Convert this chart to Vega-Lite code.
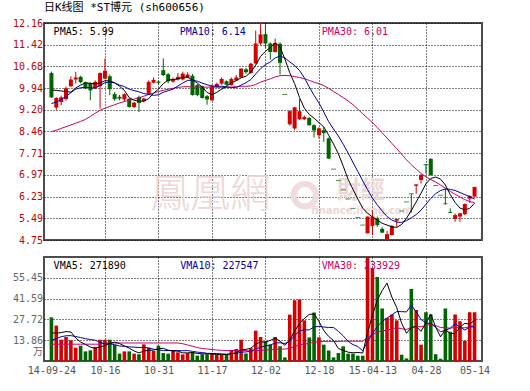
{
"$schema":"https://vega.github.io/schema/vega-lite/v6.json",
"padding":{"left":0,"top":1,"right":5,"bottom":0},
"background":"white",
"config":{
"view":{"stroke":"#4d4d4d","strokeWidth":2},
"axis":{"labelFont":"DejaVu Sans Mono, Noto Sans CJK SC","labelFontSize":10,"ticks":false,"domain":false,"title":null,"gridColor":"#000000","gridDash":[1,2],"gridWidth":1,"labelOverlap":false,"tickCount":40},
"font":"DejaVu Sans Mono, Noto Sans CJK SC"
},
"datasets":{"k":[
{"i":0,"o":10.45,"h":10.5,"l":9.6,"c":9.62,"v":29.1,"m5":9.87,"m10":9.41,"m30":8.45,"v5":18.7,"v10":13.8,"v30":11.2},
{"i":1,"o":9.27,"h":9.62,"l":9.18,"c":9.6,"v":23.6,"m5":9.86,"m10":9.46,"m30":8.5,"v5":18.6,"v10":15.0,"v30":11.2},
{"i":2,"o":9.46,"h":9.68,"l":9.35,"c":9.62,"v":14.2,"m5":9.84,"m10":9.55,"m30":8.56,"v5":18.9,"v10":16.2,"v30":11.2},
{"i":3,"o":9.56,"h":9.99,"l":9.51,"c":9.93,"v":16.0,"m5":9.82,"m10":9.65,"m30":8.62,"v5":19.6,"v10":16.8,"v30":11.2},
{"i":4,"o":10.0,"h":10.34,"l":9.98,"c":10.23,"v":13.8,"m5":9.8,"m10":9.78,"m30":8.68,"v5":19.34,"v10":16.9,"v30":11.2},
{"i":5,"o":10.23,"h":10.49,"l":10.09,"c":10.3,"v":8.9,"m5":9.94,"m10":9.9,"m30":8.74,"v5":15.3,"v10":16.3,"v30":11.2},
{"i":6,"o":10.32,"h":10.36,"l":10.1,"c":10.14,"v":10.2,"m5":10.04,"m10":9.95,"m30":8.8,"v5":12.62,"v10":15.6,"v30":11.2},
{"i":7,"o":10.14,"h":10.16,"l":9.9,"c":9.97,"v":6.4,"m5":10.11,"m10":9.96,"m30":8.87,"v5":11.06,"v10":14.9,"v30":11.2},
{"i":8,"o":10.11,"h":10.14,"l":9.52,"c":9.86,"v":7.1,"m5":10.1,"m10":9.95,"m30":8.97,"v5":9.28,"v10":14.3,"v30":11.2},
{"i":9,"o":9.93,"h":10.2,"l":9.9,"c":10.15,"v":9.4,"m5":10.08,"m10":9.94,"m30":9.08,"v5":8.4,"v10":13.87,"v30":11.2},
{"i":10,"o":10.0,"h":10.47,"l":9.24,"c":10.45,"v":14.2,"m5":10.11,"m10":10.03,"m30":9.18,"v5":9.46,"v10":12.38,"v30":11.2},
{"i":11,"o":10.26,"h":10.95,"l":10.24,"c":10.53,"v":14.2,"m5":10.19,"m10":10.12,"m30":9.25,"v5":10.26,"v10":11.44,"v30":12.0},
{"i":12,"o":10.34,"h":10.4,"l":9.7,"c":9.9,"v":14.2,"m5":10.18,"m10":10.15,"m30":9.31,"v5":11.82,"v10":11.44,"v30":12.0},
{"i":13,"o":9.73,"h":9.8,"l":9.5,"c":9.56,"v":10.7,"m5":10.12,"m10":10.11,"m30":9.37,"v5":12.54,"v10":10.91,"v30":12.0},
{"i":14,"o":9.64,"h":9.7,"l":9.52,"c":9.58,"v":4.9,"m5":10.0,"m10":10.04,"m30":9.43,"v5":11.64,"v10":10.02,"v30":12.0},
{"i":15,"o":9.55,"h":9.76,"l":9.47,"c":9.73,"v":6.4,"m5":9.86,"m10":9.99,"m30":9.48,"v5":10.08,"v10":9.77,"v30":12.0},
{"i":16,"o":9.57,"h":9.6,"l":9.27,"c":9.29,"v":6.4,"m5":9.61,"m10":9.9,"m30":9.52,"v5":8.52,"v10":9.39,"v30":12.0},
{"i":17,"o":9.29,"h":9.46,"l":9.25,"c":9.44,"v":4.9,"m5":9.52,"m10":9.85,"m30":9.56,"v5":6.66,"v10":9.24,"v30":12.0},
{"i":18,"o":9.63,"h":9.68,"l":9.12,"c":9.43,"v":4.5,"m5":9.49,"m10":9.81,"m30":9.61,"v5":5.42,"v10":8.98,"v30":12.0},
{"i":19,"o":9.49,"h":9.6,"l":9.45,"c":9.58,"v":11.1,"m5":9.49,"m10":9.75,"m30":9.66,"v5":6.66,"v10":9.15,"v30":12.0},
{"i":20,"o":9.74,"h":10.2,"l":9.7,"c":10.15,"v":8.9,"m5":9.58,"m10":9.72,"m30":9.72,"v5":7.16,"v10":8.62,"v30":12.0},
{"i":21,"o":10.12,"h":10.3,"l":10.1,"c":10.22,"v":6.7,"m5":9.76,"m10":9.69,"m30":9.77,"v5":7.22,"v10":7.87,"v30":12.0},
{"i":22,"o":10.16,"h":10.2,"l":10.05,"c":10.12,"v":10.2,"m5":9.9,"m10":9.71,"m30":9.82,"v5":8.28,"v10":7.47,"v30":12.0},
{"i":23,"o":10.55,"h":10.95,"l":10.35,"c":10.38,"v":5.3,"m5":10.09,"m10":9.79,"m30":9.86,"v5":8.44,"v10":6.93,"v30":12.0},
{"i":24,"o":10.41,"h":10.45,"l":10.1,"c":10.17,"v":4.9,"m5":10.21,"m10":9.85,"m30":9.9,"v5":7.2,"v10":6.93,"v30":12.0},
{"i":25,"o":10.16,"h":10.3,"l":10.12,"c":10.25,"v":6.7,"m5":10.23,"m10":9.9,"m30":9.93,"v5":6.76,"v10":6.96,"v30":12.0},
{"i":26,"o":10.23,"h":10.45,"l":10.2,"c":10.32,"v":5.8,"m5":10.25,"m10":10.01,"m30":9.96,"v5":6.58,"v10":6.9,"v30":12.0},
{"i":27,"o":10.23,"h":10.5,"l":10.2,"c":10.43,"v":4.4,"m5":10.31,"m10":10.11,"m30":9.98,"v5":5.42,"v10":6.85,"v30":11.5},
{"i":28,"o":10.3,"h":10.48,"l":10.28,"c":10.4,"v":5.3,"m5":10.31,"m10":10.2,"m30":9.99,"v5":5.42,"v10":6.93,"v30":10.7},
{"i":29,"o":10.36,"h":10.42,"l":9.68,"c":9.7,"v":6.0,"m5":10.22,"m10":10.21,"m30":9.97,"v5":5.64,"v10":6.42,"v30":9.81},
{"i":30,"o":10.04,"h":10.08,"l":9.66,"c":9.7,"v":3.6,"m5":10.11,"m10":10.17,"m30":9.97,"v5":5.02,"v10":5.89,"v30":8.96},
{"i":31,"o":10.0,"h":10.02,"l":9.58,"c":9.6,"v":4.5,"m5":9.97,"m10":10.11,"m30":9.97,"v5":4.76,"v10":5.67,"v30":8.33},
{"i":32,"o":9.66,"h":9.7,"l":9.37,"c":9.55,"v":4.5,"m5":9.79,"m10":10.05,"m30":9.97,"v5":4.78,"v10":5.1,"v30":8.0},
{"i":33,"o":9.52,"h":10.05,"l":9.5,"c":10.0,"v":5.0,"m5":9.71,"m10":10.01,"m30":9.97,"v5":4.72,"v10":5.07,"v30":7.64},
{"i":34,"o":9.98,"h":10.12,"l":9.95,"c":10.08,"v":4.0,"m5":9.79,"m10":10.0,"m30":9.97,"v5":4.32,"v10":4.98,"v30":7.31},
{"i":35,"o":10.09,"h":10.3,"l":10.05,"c":10.25,"v":4.0,"m5":9.9,"m10":10.0,"m30":9.96,"v5":4.4,"v10":4.71,"v30":7.15},
{"i":36,"o":10.17,"h":10.2,"l":10.02,"c":10.05,"v":4.0,"m5":9.99,"m10":9.98,"m30":9.96,"v5":4.3,"v10":4.53,"v30":6.94},
{"i":37,"o":10.04,"h":10.3,"l":10.02,"c":10.25,"v":7.3,"m5":10.13,"m10":9.96,"m30":9.97,"v5":4.86,"v10":4.82,"v30":6.97},
{"i":38,"o":10.2,"h":10.38,"l":10.18,"c":10.3,"v":8.0,"m5":10.19,"m10":9.95,"m30":9.99,"v5":5.46,"v10":5.09,"v30":7.0},
{"i":39,"o":10.3,"h":10.62,"l":10.28,"c":10.6,"v":14.2,"m5":10.29,"m10":10.04,"m30":10.0,"v5":7.5,"v10":5.91,"v30":7.16},
{"i":40,"o":10.58,"h":10.62,"l":10.42,"c":10.48,"v":5.0,"m5":10.34,"m10":10.12,"m30":10.0,"v5":7.7,"v10":6.05,"v30":6.85},
{"i":41,"o":10.45,"h":10.8,"l":10.43,"c":10.77,"v":8.5,"m5":10.48,"m10":10.23,"m30":10.01,"v5":8.6,"v10":6.45,"v30":6.66},
{"i":42,"o":10.78,"h":11.9,"l":10.75,"c":11.46,"v":20.2,"m5":10.72,"m10":10.42,"m30":10.06,"v5":11.18,"v10":8.02,"v30":6.86},
{"i":43,"o":11.46,"h":12.16,"l":11.4,"c":11.77,"v":16.0,"m5":11.02,"m10":10.6,"m30":10.14,"v5":12.78,"v10":9.12,"v30":7.04},
{"i":44,"o":11.78,"h":12.1,"l":11.3,"c":11.46,"v":13.1,"m5":11.19,"m10":10.74,"m30":10.2,"v5":12.56,"v10":10.03,"v30":7.31},
{"i":45,"o":11.46,"h":11.5,"l":10.91,"c":11.17,"v":10.9,"m5":11.33,"m10":10.83,"m30":10.25,"v5":13.74,"v10":10.72,"v30":7.46},
{"i":46,"o":11.17,"h":11.63,"l":11.15,"c":11.48,"v":16.0,"m5":11.47,"m10":10.97,"m30":10.32,"v5":15.24,"v10":11.92,"v30":7.78},
{"i":47,"o":11.45,"h":11.5,"l":10.4,"c":10.8,"v":9.8,"m5":11.34,"m10":11.03,"m30":10.36,"v5":13.16,"v10":12.17,"v30":7.95},
{"i":48,"o":9.72,"h":9.72,"l":9.72,"c":9.72,"v":2.4,"m5":10.93,"m10":10.97,"m30":10.37,"v5":10.44,"v10":11.61,"v30":7.88},
{"i":49,"o":8.7,"h":9.17,"l":8.66,"c":9.15,"v":30.9,"m5":10.46,"m10":10.83,"m30":10.36,"v5":14.0,"v10":13.28,"v30":8.54},
{"i":50,"o":8.56,"h":9.3,"l":8.5,"c":9.28,"v":40.5,"m5":10.09,"m10":10.71,"m30":10.33,"v5":19.92,"v10":16.83,"v30":9.59},
{"i":51,"o":8.87,"h":9.56,"l":8.85,"c":9.15,"v":41.0,"m5":9.62,"m10":10.54,"m30":10.3,"v5":24.92,"v10":20.08,"v30":10.73},
{"i":52,"o":8.87,"h":9.0,"l":8.85,"c":8.95,"v":27.1,"m5":9.25,"m10":10.29,"m30":10.26,"v5":28.38,"v10":20.77,"v30":11.3},
{"i":53,"o":8.92,"h":8.95,"l":8.65,"c":8.67,"v":15.7,"m5":9.04,"m10":9.98,"m30":10.2,"v5":31.04,"v10":20.74,"v30":11.64},
{"i":54,"o":8.67,"h":8.7,"l":8.25,"c":8.49,"v":32.3,"m5":8.91,"m10":9.69,"m30":10.14,"v5":31.32,"v10":22.66,"v30":12.56},
{"i":55,"o":8.33,"h":8.6,"l":8.22,"c":8.56,"v":15.8,"m5":8.76,"m10":9.43,"m30":10.09,"v5":26.38,"v10":23.15,"v30":12.86},
{"i":56,"o":8.5,"h":8.61,"l":8.1,"c":8.4,"v":10.9,"m5":8.61,"m10":9.12,"m30":10.02,"v5":20.36,"v10":22.64,"v30":13.03},
{"i":57,"o":8.22,"h":8.25,"l":7.52,"c":7.53,"v":7.0,"m5":8.33,"m10":8.79,"m30":9.93,"v5":16.34,"v10":22.36,"v30":13.12},
{"i":58,"o":7.17,"h":7.17,"l":7.17,"c":7.17,"v":2.4,"m5":8.03,"m10":8.54,"m30":9.82,"v5":13.68,"v10":22.36,"v30":13.02},
{"i":59,"o":6.78,"h":6.78,"l":6.78,"c":6.78,"v":5.3,"m5":7.69,"m10":8.3,"m30":9.72,"v5":8.28,"v10":19.8,"v30":13.0},
{"i":60,"o":6.46,"h":6.46,"l":6.46,"c":6.46,"v":9.8,"m5":7.27,"m10":8.02,"m30":9.61,"v5":7.08,"v10":16.73,"v30":13.2},
{"i":61,"o":6.15,"h":6.15,"l":6.15,"c":6.15,"v":4.9,"m5":6.82,"m10":7.72,"m30":9.5,"v5":5.88,"v10":13.12,"v30":13.22},
{"i":62,"o":5.83,"h":5.83,"l":5.83,"c":5.83,"v":4.9,"m5":6.48,"m10":7.4,"m30":9.37,"v5":5.46,"v10":10.9,"v30":13.23},
{"i":63,"o":5.52,"h":5.52,"l":5.52,"c":5.52,"v":3.5,"m5":6.15,"m10":7.09,"m30":9.22,"v5":5.68,"v10":9.68,"v30":13.18},
{"i":64,"o":5.26,"h":5.26,"l":5.26,"c":5.26,"v":3.5,"m5":5.84,"m10":6.77,"m30":9.06,"v5":5.32,"v10":6.8,"v30":13.16},
{"i":65,"o":4.98,"h":5.55,"l":4.98,"c":5.55,"v":78,"m5":5.66,"m10":6.47,"m30":8.91,"v5":18.96,"v10":13.02,"v30":15.63},
{"i":66,"o":5.23,"h":5.77,"l":4.92,"c":5.55,"v":62,"m5":5.54,"m10":6.18,"m30":8.76,"v5":30.38,"v10":18.13,"v30":17.56},
{"i":67,"o":5.49,"h":5.55,"l":5.2,"c":5.26,"v":56,"m5":5.43,"m10":5.95,"m30":8.59,"v5":40.6,"v10":23.03,"v30":19.19},
{"i":68,"o":5.13,"h":5.19,"l":5.0,"c":5.0,"v":35,"m5":5.32,"m10":5.74,"m30":8.41,"v5":46.9,"v10":26.29,"v30":20.09},
{"i":69,"o":4.78,"h":5.06,"l":4.75,"c":4.95,"v":28.7,"m5":5.26,"m10":5.55,"m30":8.23,"v5":51.94,"v10":28.63,"v30":20.57},
{"i":70,"o":4.92,"h":5.26,"l":4.9,"c":5.23,"v":30.9,"m5":5.2,"m10":5.43,"m30":8.05,"v5":42.52,"v10":30.74,"v30":21.43},
{"i":71,"o":5.41,"h":5.47,"l":5.2,"c":5.47,"v":27.1,"m5":5.18,"m10":5.36,"m30":7.87,"v5":35.54,"v10":32.96,"v30":22.05},
{"i":72,"o":5.74,"h":5.74,"l":5.74,"c":5.74,"v":4.2,"m5":5.28,"m10":5.35,"m30":7.68,"v5":25.18,"v10":32.89,"v30":21.52},
{"i":73,"o":6.05,"h":6.05,"l":6.05,"c":6.05,"v":1.7,"m5":5.49,"m10":5.41,"m30":7.49,"v5":18.52,"v10":32.71,"v30":21.04},
{"i":74,"o":6.33,"h":6.33,"l":5.69,"c":6.33,"v":48,"m5":5.76,"m10":5.51,"m30":7.32,"v5":22.38,"v10":37.16,"v30":22.21},
{"i":75,"o":6.6,"h":6.65,"l":6.33,"c":6.65,"v":34,"m5":6.05,"m10":5.62,"m30":7.17,"v5":23.0,"v10":32.76,"v30":22.98},
{"i":76,"o":6.8,"h":6.98,"l":6.68,"c":6.98,"v":10.9,"m5":6.35,"m10":5.77,"m30":7.02,"v5":19.76,"v10":27.65,"v30":22.81},
{"i":77,"o":7.33,"h":7.33,"l":7.02,"c":7.32,"v":32.5,"m5":6.67,"m10":5.97,"m30":6.91,"v5":25.42,"v10":25.3,"v30":23.56},
{"i":78,"o":7.52,"h":7.55,"l":6.96,"c":6.96,"v":31,"m5":6.85,"m10":6.17,"m30":6.81,"v5":31.28,"v10":24.9,"v30":24.52},
{"i":79,"o":6.61,"h":6.61,"l":6.61,"c":6.61,"v":4.5,"m5":6.9,"m10":6.33,"m30":6.73,"v5":22.58,"v10":22.48,"v30":23.64},
{"i":80,"o":6.28,"h":6.28,"l":6.28,"c":6.28,"v":1.5,"m5":6.83,"m10":6.44,"m30":6.63,"v5":16.08,"v10":19.54,"v30":22.34},
{"i":81,"o":6.0,"h":6.51,"l":5.97,"c":5.97,"v":35,"m5":6.63,"m10":6.49,"m30":6.52,"v5":20.9,"v10":20.33,"v30":22.14},
{"i":82,"o":5.7,"h":5.83,"l":5.67,"c":5.67,"v":19.5,"m5":6.3,"m10":6.48,"m30":6.41,"v5":18.3,"v10":21.86,"v30":21.88},
{"i":83,"o":5.47,"h":5.66,"l":5.37,"c":5.6,"v":31,"m5":6.03,"m10":6.44,"m30":6.31,"v5":18.3,"v10":24.79,"v30":22.39},
{"i":84,"o":5.55,"h":5.68,"l":5.37,"c":5.66,"v":26.5,"m5":5.84,"m10":6.37,"m30":6.22,"v5":22.7,"v10":22.64,"v30":22.2},
{"i":85,"o":5.63,"h":6.0,"l":5.6,"c":5.98,"v":13.5,"m5":5.78,"m10":6.3,"m30":6.13,"v5":25.1,"v10":20.59,"v30":22.12},
{"i":86,"o":6.16,"h":6.28,"l":6.02,"c":6.25,"v":32.5,"m5":5.83,"m10":6.23,"m30":6.06,"v5":24.6,"v10":22.75,"v30":22.84},
{"i":87,"o":6.23,"h":6.57,"l":6.23,"c":6.56,"v":32.5,"m5":6.01,"m10":6.15,"m30":6.03,"v5":27.2,"v10":22.75,"v30":23.69}
]},
"spacing":10,
"vconcat":[
{
"width":438,"height":217,
"title":{"text":"日K线图 *ST博元  (sh600656)","anchor":"start","frame":"group","fontSize":11,"fontWeight":"normal","font":"DejaVu Sans Mono, Noto Sans CJK SC","color":"#000000","offset":5},
"data":{"name":"k"},
"encoding":{"x":{"field":"i","type":"quantitative","scale":{"domain":[-0.5,87.5],"nice":false,"zero":false},"axis":{"values":[11,22,33,44,55,66,77],"labels":false,"grid":true,"tickCount":40}}},
"layer":[
{"transform":[{"filter":"datum.i == 0"}],"mark":{"type":"text","align":"center","baseline":"middle","fontSize":40,"font":"Noto Sans CJK TC","fontWeight":300,"color":"#eed6d6"},"encoding":{"x":{"datum":32.65,"type":"quantitative"},"y":{"datum":6.28,"type":"quantitative"},"text":{"value":"鳳凰網"}}},
{"transform":[{"filter":"datum.i == 0"}],"mark":{"type":"point","shape":"circle","filled":false,"strokeWidth":6,"size":500,"color":"#f0dcdc","opacity":1},"encoding":{"x":{"datum":52.1,"type":"quantitative"},"y":{"datum":6.28,"type":"quantitative"}}},
{"transform":[{"filter":"datum.i == 0"}],"mark":{"type":"text","align":"center","baseline":"middle","fontSize":24,"font":"Noto Sans CJK TC","fontWeight":"bold","color":"#eed6d6"},"encoding":{"x":{"datum":63.6,"type":"quantitative"},"y":{"datum":6.42,"type":"quantitative"},"text":{"value":"財經"}}},
{"transform":[{"filter":"datum.i == 0"}],"mark":{"type":"text","align":"center","baseline":"middle","fontSize":10,"font":"DejaVu Sans","fontWeight":"bold","color":"#eed6d6"},"encoding":{"x":{"datum":63.8,"type":"quantitative"},"y":{"datum":5.74,"type":"quantitative"},"text":{"value":"finance.ifeng.com"}}},
{"mark":{"type":"rule","strokeWidth":1},"encoding":{"y":{"field":"l","type":"quantitative","scale":{"domain":[4.75,12.16],"nice":false,"zero":false},"axis":{"values":[4.75,5.49,6.23,6.97,7.71,8.46,9.2,9.94,10.68,11.42,12.16],"tickCount":40,"labelOverlap":false,"format":".2f","labelColor":"#cc0000","labelPadding":1.5,"minExtent":43,"maxExtent":43,"grid":true}},"y2":{"field":"h"},"color":{"condition":{"test":"datum.c > datum.o","value":"#d40000"},"value":"#006400"}}},
{"mark":{"type":"bar","size":4,"orient":"vertical"},"encoding":{"y":{"field":"o","type":"quantitative"},"y2":{"field":"c"},"color":{"condition":{"test":"datum.c > datum.o","value":"#d40000"},"value":"#006400"}}},
{"transform":[{"filter":"abs(datum.o - datum.c) < 0.03"}],"mark":{"type":"tick","orient":"horizontal","size":5,"thickness":1},"encoding":{"y":{"field":"c","type":"quantitative"},"color":{"condition":{"test":"datum.c > datum.o","value":"#d40000"},"value":"#006400"}}},
{"mark":{"type":"line","strokeWidth":1,"color":"#cc0066"},"encoding":{"y":{"field":"m30","type":"quantitative"}}},
{"mark":{"type":"line","strokeWidth":1,"color":"#0000aa"},"encoding":{"y":{"field":"m10","type":"quantitative"}}},
{"mark":{"type":"line","strokeWidth":1,"color":"#000000"},"encoding":{"y":{"field":"m5","type":"quantitative"}}},
{"transform":[{"filter":"datum.i == 0"}],"mark":{"type":"text","align":"left","baseline":"middle","fontSize":10,"font":"DejaVu Sans Mono","color":"#000000"},"encoding":{"x":{"datum":0.45,"type":"quantitative"},"y":{"datum":11.84,"type":"quantitative"},"text":{"value":"PMA5: 5.99"}}},
{"transform":[{"filter":"datum.i == 0"}],"mark":{"type":"text","align":"left","baseline":"middle","fontSize":10,"font":"DejaVu Sans Mono","color":"#0000aa"},"encoding":{"x":{"datum":26.36,"type":"quantitative"},"y":{"datum":11.84,"type":"quantitative"},"text":{"value":"PMA10: 6.14"}}},
{"transform":[{"filter":"datum.i == 0"}],"mark":{"type":"text","align":"left","baseline":"middle","fontSize":10,"font":"DejaVu Sans Mono","color":"#cc0066"},"encoding":{"x":{"datum":55.6,"type":"quantitative"},"y":{"datum":11.84,"type":"quantitative"},"text":{"value":"PMA30: 6.01"}}}
]
},
{
"width":438,"height":104,
"data":{"name":"k"},
"encoding":{"x":{"field":"i","type":"quantitative","scale":{"domain":[-0.5,87.5],"nice":false,"zero":false},"axis":{"values":[0,11,22,33,44,55,66,77,87],"tickCount":40,"labelExpr":"datum.value==0?'14-09-24':datum.value==11?'10-16':datum.value==22?'10-31':datum.value==33?'11-17':datum.value==44?'12-02':datum.value==55?'12-18':datum.value==66?'15-04-13':datum.value==77?'04-28':'05-14'","labelFlush":false,"labelOverlap":false,"labelColor":"#555555","labelPadding":4,"grid":true,"gridOpacity":{"condition":{"test":"datum.value==0 || datum.value==87","value":0},"value":1}}}},
"layer":[
{"mark":{"type":"bar","size":3.6,"orient":"vertical","clip":true},"encoding":{"y":{"field":"v","type":"quantitative","scale":{"domain":[0,69.3],"nice":false,"zero":true},"axis":{"values":[6.2,13.86,27.72,41.59,55.45],"tickCount":40,"labelOverlap":false,"labelExpr":"datum.value < 10 ? '万' : format(datum.value, '.2f')","labelColor":"#666666","labelPadding":1.5,"minExtent":43,"maxExtent":43,"grid":true,"gridOpacity":{"condition":{"test":"datum.value < 10","value":0},"value":1}}},"color":{"condition":{"test":"datum.c > datum.o","value":"#d40000"},"value":"#006400"}}},
{"mark":{"type":"line","strokeWidth":1,"color":"#cc0066"},"encoding":{"y":{"field":"v30","type":"quantitative"}}},
{"mark":{"type":"line","strokeWidth":1,"color":"#0000aa"},"encoding":{"y":{"field":"v10","type":"quantitative"}}},
{"mark":{"type":"line","strokeWidth":1,"color":"#000000"},"encoding":{"y":{"field":"v5","type":"quantitative"}}},
{"transform":[{"filter":"datum.i == 0"}],"mark":{"type":"text","align":"left","baseline":"middle","fontSize":10,"font":"DejaVu Sans Mono","color":"#000000"},"encoding":{"x":{"datum":0.45,"type":"quantitative"},"y":{"datum":63.5,"type":"quantitative"},"text":{"value":"VMA5: 271890"}}},
{"transform":[{"filter":"datum.i == 0"}],"mark":{"type":"text","align":"left","baseline":"middle","fontSize":10,"font":"DejaVu Sans Mono","color":"#0000aa"},"encoding":{"x":{"datum":26.5,"type":"quantitative"},"y":{"datum":63.5,"type":"quantitative"},"text":{"value":"VMA10: 227547"}}},
{"transform":[{"filter":"datum.i == 0"}],"mark":{"type":"text","align":"left","baseline":"middle","fontSize":10,"font":"DejaVu Sans Mono","color":"#cc0066"},"encoding":{"x":{"datum":55.6,"type":"quantitative"},"y":{"datum":63.5,"type":"quantitative"},"text":{"value":"VMA30: 233929"}}}
]
}
]
}
